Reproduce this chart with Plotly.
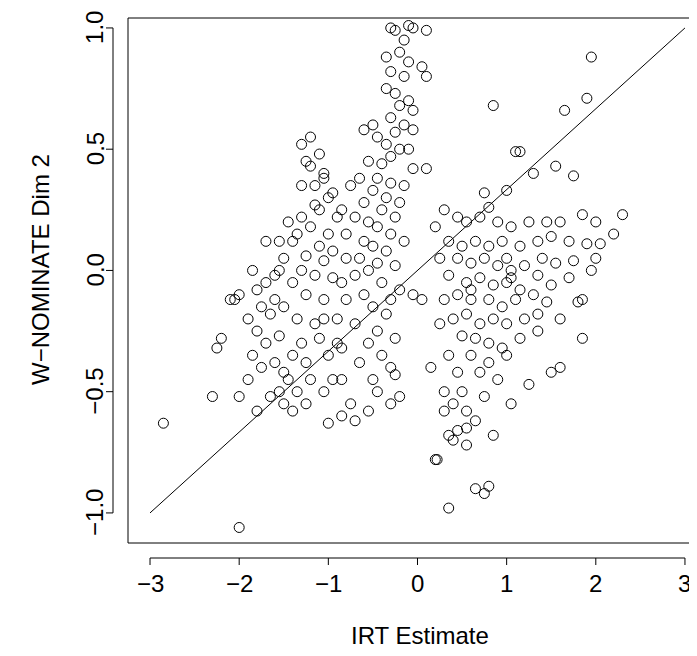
import plotly.graph_objects as go

pts = [(-0.3,1.0),(-0.25,0.99),(-0.1,1.01),(-0.05,1.0),(0.1,0.99),(-0.15,0.95),(-0.35,0.88),(-0.2,0.9),(-0.1,0.86),(0.05,0.84),(0.1,0.8),(-0.3,0.82),(-0.15,0.8),(-0.35,0.75),(-0.25,0.73),(-0.1,0.7),(-0.2,0.68),(-0.05,0.66),(-0.3,0.63),(-0.15,0.6),(-0.05,0.58),(-0.25,0.57),(-0.5,0.6),(-0.45,0.55),(-0.6,0.58),(-0.35,0.52),(-0.2,0.5),(-0.1,0.5),(-0.3,0.47),(-0.55,0.45),(-0.4,0.44),(-0.05,0.42),(0.1,0.42),(-0.65,0.38),(-0.45,0.38),(-0.3,0.36),(-0.15,0.35),(-0.75,0.35),(-0.5,0.33),(-0.35,0.3),(-0.2,0.28),(-0.6,0.28),(-0.4,0.25),(-0.25,0.22),(-0.55,0.2),(-0.7,0.22),(-0.45,0.18),(-0.3,0.15),(-0.15,0.12),(-0.6,0.12),(-0.8,0.15),(-0.5,0.1),(-0.35,0.08),(-0.65,0.05),(-0.45,0.03),(-0.25,0.02),(-0.55,0.0),(-0.7,-0.02),(-0.4,-0.05),(-0.2,-0.08),(-0.05,-0.1),(-0.3,-0.12),(-0.6,-0.1),(-0.8,-0.12),(-0.5,-0.15),(-0.35,-0.18),(-0.9,-0.2),(-0.7,-0.22),(-0.45,-0.25),(-0.25,-0.28),(-0.55,-0.3),(-0.85,-0.32),(-0.4,-0.35),(-0.65,-0.38),(-0.3,-0.4),(-0.5,-0.45),(-0.45,-0.5),(-0.3,-0.55),(-0.75,-0.55),(-0.85,-0.6),(-0.7,-0.62),(-1.0,-0.63),(-0.55,-0.58),(-0.2,-0.52),(-0.25,-0.43),
(-1.2,0.55),(-1.3,0.52),(-1.1,0.48),(-1.25,0.45),(-1.05,0.4),(-1.2,0.43),(-1.3,0.35),(-0.95,0.32),(-1.0,0.3),(-1.15,0.27),(-1.1,0.25),(-0.9,0.22),(-1.3,0.22),(-1.45,0.2),(-1.2,0.18),(-1.0,0.15),(-1.35,0.15),(-1.55,0.12),(-1.7,0.12),(-1.1,0.1),(-0.95,0.08),(-1.25,0.06),(-1.05,0.04),(-1.5,0.05),(-1.3,0.0),(-1.15,-0.02),(-0.95,-0.03),(-1.6,-0.02),(-1.85,0.0),(-1.4,-0.05),(-1.7,-0.05),(-2.0,-0.1),(-1.8,-0.08),(-1.25,-0.1),(-1.05,-0.12),(-2.1,-0.12),(-1.5,-0.15),(-1.75,-0.15),(-1.9,-0.2),(-1.35,-0.2),(-1.15,-0.22),(-1.65,-0.18),(-1.8,-0.25),(-2.2,-0.28),(-2.25,-0.32),(-1.55,-0.27),(-1.3,-0.3),(-1.1,-0.28),(-1.4,-0.35),(-1.85,-0.35),(-1.6,-0.38),(-1.25,-0.38),(-1.0,-0.35),(-1.75,-0.4),(-1.45,-0.45),(-1.2,-0.45),(-1.55,-0.5),(-1.35,-0.5),(-1.65,-0.52),(-1.5,-0.55),(-1.4,-0.58),(-1.8,-0.58),(-1.25,-0.55),(-2.0,-0.52),(-2.3,-0.52),(-2.05,-0.12),(-2.85,-0.63),(-2.0,-1.06),(-1.05,-0.2),(-0.95,-0.45),(-1.05,-0.5),(-0.85,-0.45),(-1.7,-0.3),(-1.6,-0.12),(-1.55,0.0),(-1.4,0.12),(-1.15,0.35),(-1.05,0.38),(-0.85,0.25),(-0.8,0.05),(-0.85,-0.05),(-0.9,-0.3),(-1.9,-0.45),(-1.5,-0.42),
(0.85,0.68),(1.1,0.49),(1.15,0.49),(1.3,0.4),(1.9,0.71),(1.95,0.88),(1.65,0.66),(1.55,0.43),(1.75,0.39),(1.0,0.33),(0.75,0.32),(0.2,0.18),(0.3,0.25),(0.45,0.22),(0.55,0.2),(0.7,0.22),(0.8,0.26),(0.9,0.2),(1.05,0.18),(1.25,0.2),(1.45,0.2),(1.6,0.2),(1.85,0.23),(2.0,0.2),(2.3,0.23),(2.2,0.15),(0.35,0.12),(0.5,0.1),(0.65,0.12),(0.8,0.1),(0.95,0.12),(1.15,0.1),(1.35,0.12),(1.5,0.14),(1.7,0.12),(1.9,0.11),(2.05,0.11),(0.25,0.05),(0.45,0.05),(0.6,0.03),(0.75,0.05),(0.9,0.02),(1.05,0.0),(1.2,0.02),(1.4,0.05),(1.55,0.03),(1.75,0.04),(2.0,0.05),(0.35,-0.02),(0.55,-0.05),(0.7,-0.03),(0.85,-0.06),(1.0,-0.05),(1.15,-0.08),(1.35,-0.02),(1.5,-0.06),(1.7,-0.03),(1.95,0.0),(0.3,-0.12),(0.45,-0.1),(0.6,-0.12),(0.8,-0.12),(0.95,-0.15),(1.1,-0.12),(1.3,-0.1),(1.45,-0.13),(1.85,-0.12),(0.4,-0.2),(0.55,-0.18),(0.7,-0.22),(0.85,-0.2),(1.0,-0.22),(1.2,-0.2),(1.35,-0.18),(1.6,-0.2),(1.8,-0.13),(0.25,-0.22),(0.5,-0.27),(0.65,-0.28),(0.8,-0.3),(0.95,-0.32),(1.15,-0.28),(1.35,-0.25),(1.85,-0.28),(0.35,-0.35),(0.6,-0.35),(0.8,-0.38),(1.0,-0.35),(0.45,-0.42),(0.7,-0.42),(0.9,-0.45),(1.25,-0.47),(1.5,-0.42),(1.6,-0.4),(0.3,-0.5),(0.5,-0.5),(0.75,-0.52),(1.05,-0.55),(0.4,-0.55),(0.55,-0.58),(0.3,-0.58),(0.65,-0.62),(0.55,-0.65),(0.45,-0.66),(0.35,-0.68),(0.4,-0.7),(0.55,-0.72),(0.85,-0.68),(0.2,-0.78),(0.22,-0.78),(0.65,-0.9),(0.75,-0.92),(0.8,-0.89),(0.35,-0.98),(0.15,-0.4),(0.05,-0.12),(1.0,0.05),(1.05,-0.03),(0.6,-0.08),(3.2,0.26)]
irt = [p[0] for p in pts]
dim2 = [p[1] for p in pts]
line_x = [-3, 3]
line_y = [-1, 1]
xticks = [-3, -2, -1, 0, 1, 2, 3]
yticks = [-1.0, -0.5, 0.0, 0.5, 1.0]

fig = go.Figure()
fig.add_trace(go.Scatter(x=irt, y=dim2, mode="markers", cliponaxis=False,
    marker=dict(symbol="circle-open", size=10, color="black", line=dict(width=1))))
fig.add_trace(go.Scatter(x=line_x, y=line_y, mode="lines", line=dict(color="black", width=1)))

FS = 24
shapes = []
ann = []
shapes.append(dict(type="line", xref="paper", yref="paper", x0=0, x1=0, y0=0, y1=1, line=dict(width=1, color="black")))
shapes.append(dict(type="line", xref="paper", yref="paper", x0=0, x1=1.2, y0=1, y1=1, line=dict(width=1, color="black")))
shapes.append(dict(type="line", xref="paper", yref="paper", x0=0, x1=1.2, y0=0, y1=0, line=dict(width=1, color="black")))
ph = 525.0
pw = 569.0
yb = -15/ph
shapes.append(dict(type="line", xref="x", yref="paper", x0=xticks[0], x1=xticks[-1], y0=yb, y1=yb, line=dict(width=1, color="black")))
for t in xticks:
    shapes.append(dict(type="line", xref="x", yref="paper", x0=t, x1=t, y0=yb, y1=yb-7/ph, line=dict(width=1, color="black")))
    ann.append(dict(x=t, y=-40/ph, xref="x", yref="paper", yanchor="middle", text=("−" if t < 0 else "")+str(abs(t)), showarrow=False, font=dict(size=FS, color="black")))
xl = -15/pw
shapes.append(dict(type="line", xref="paper", yref="y", x0=xl, x1=xl, y0=yticks[0], y1=yticks[-1], line=dict(width=1, color="black")))
for t in yticks:
    shapes.append(dict(type="line", xref="paper", yref="y", x0=xl, x1=xl-7/pw, y0=t, y1=t, line=dict(width=1, color="black")))
    ann.append(dict(x=-33/pw, y=t, xref="paper", yref="y", xanchor="center", yanchor="middle", text=("−" if t < 0 else "")+f"{abs(t):.1f}", textangle=-90, showarrow=False, font=dict(size=FS, color="black")))
ann.append(dict(x=(420-128)/pw, y=-92/ph, xref="paper", yref="paper", yanchor="middle", text="IRT Estimate", showarrow=False, font=dict(size=FS, color="black")))
ann.append(dict(x=-88/pw, y=(543-270)/ph, xref="paper", yref="paper", xanchor="center", yanchor="middle", text="W−NOMINATE Dim 2", textangle=-90, showarrow=False, font=dict(size=FS, color="black")))

fig.update_layout(width=689, height=648, margin=dict(l=120, r=0, t=10, b=113, autoexpand=False),
    plot_bgcolor="white", paper_bgcolor="white", showlegend=False,
    font=dict(family="Liberation Sans, Arial", color="black"),
    shapes=shapes, annotations=ann,
    xaxis=dict(range=[-3.247, 3.135], showgrid=False, zeroline=False, showticklabels=False, ticks=""),
    yaxis=dict(range=[-1.124, 1.041], showgrid=False, zeroline=False, showticklabels=False, ticks=""))
fig.write_html("out.html")
